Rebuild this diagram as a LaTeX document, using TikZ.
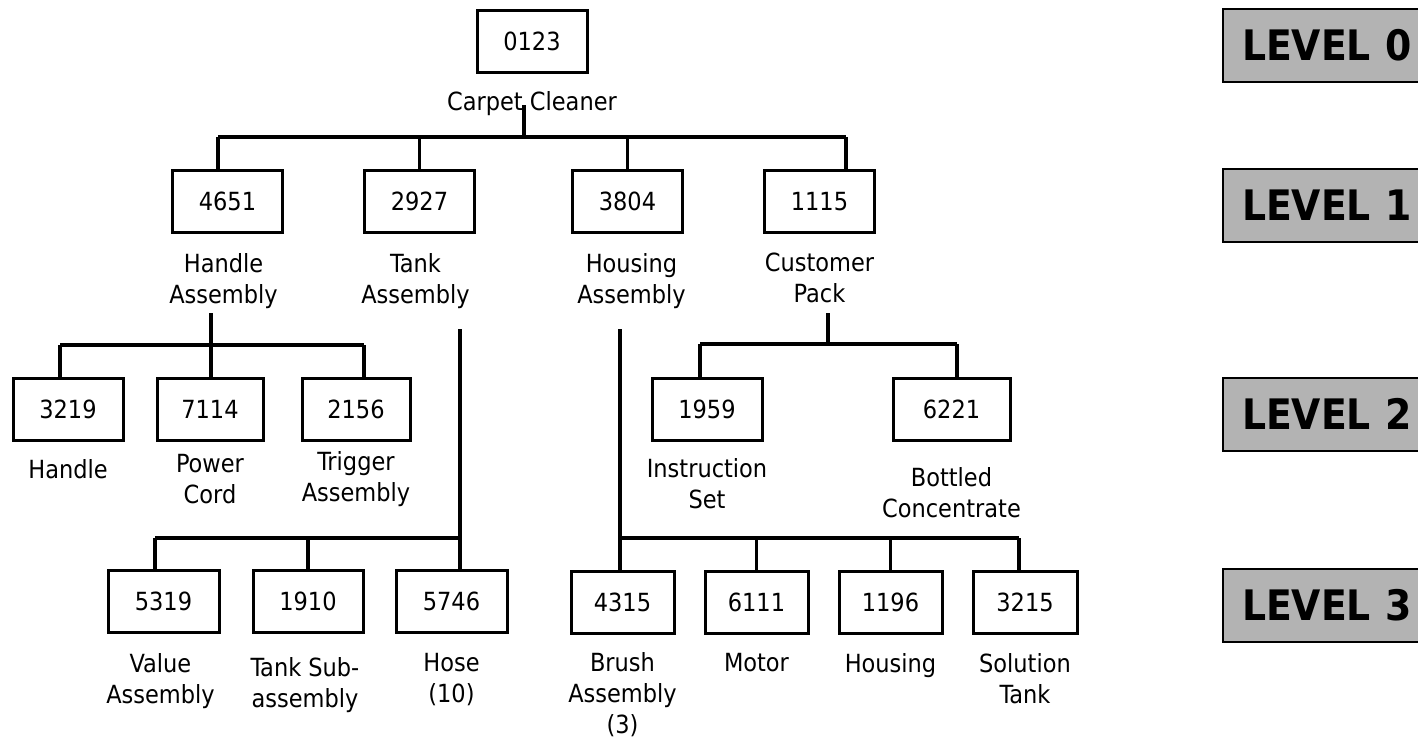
\documentclass[tikz,border=0pt]{standalone}
\usepackage{fontspec}
\setmainfont{DejaVu Sans Condensed}
\usepackage{xcolor}
\usetikzlibrary{positioning}
\definecolor{levelgray}{HTML}{B3B3B3}
\tikzstyle{part} = [rectangle, draw=black, line width=3pt, minimum width=110pt, minimum height=62pt, inner sep=0pt, font=\fontsize{25}{31}\selectfont]
\tikzstyle{partname} = [align=center, inner sep=0pt, font=\fontsize{25}{31}\selectfont]
\tikzstyle{levelbox} = [rectangle, draw=black, line width=2pt, fill=levelgray, anchor=west, minimum height=73pt, text width=200pt, inner xsep=19pt, align=left, font=\bfseries\fontsize{42}{50}\selectfont]
\tikzstyle{link} = [line width=3.5pt]

\begin{document}
\begin{tikzpicture}[x=1pt, y=-1pt]
    \useasboundingbox (0,0) rectangle (1418,739);

    % Level 0
    \node[part] (p0123) at (532,41) {0123};
    \node[partname, below=18pt of p0123] (n0123) {Carpet Cleaner};

    % Level 1
    \node[part] (p4651) at (227.5,201.5) {4651};
    \node[part] (p2927) at (419.5,201.5) {2927};
    \node[part] (p3804) at (627.5,201.5) {3804};
    \node[part] (p1115) at (819.5,201.5) {1115};
    \node[partname, below=19pt of p4651, xshift=-4pt] (n4651) {Handle\\Assembly};
    \node[partname, below=19pt of p2927, xshift=-4pt] (n2927) {Tank\\Assembly};
    \node[partname, below=19pt of p3804, xshift=4pt] (n3804) {Housing\\Assembly};
    \node[partname, below=19pt of p1115] (n1115) {Customer\\Pack};

    % Level 2
    \node[part] (p3219) at (68,409.5) {3219};
    \node[part, minimum width=106pt] (p7114) at (210,409.5) {7114};
    \node[part, minimum width=108pt] (p2156) at (356,409.5) {2156};
    \node[part] (p1959) at (707,409) {1959};
    \node[part, minimum width=117pt] (p6221) at (951.5,409) {6221};
    \node[partname, below=17pt of p3219] (n3219) {Handle};
    \node[partname, below=12pt of p7114] (n7114) {Power\\Cord};
    \node[partname, below=9pt of p2156] (n2156) {Trigger\\Assembly};
    \node[partname, below=17pt of p1959] (n1959) {Instruction\\Set};
    \node[partname, below=26pt of p6221] (n6221) {Bottled\\Concentrate};

    % Level 3
    \node[part, minimum width=111pt] (p5319) at (163.5,601.5) {5319};
    \node[part] (p1910) at (308,601.5) {1910};
    \node[part, minimum width=111pt] (p5746) at (451.5,601.5) {5746};
    \node[part, minimum width=103pt] (p4315) at (622.5,602) {4315};
    \node[part, minimum width=103pt] (p6111) at (756.5,602) {6111};
    \node[part, minimum width=103pt] (p1196) at (890.5,602) {1196};
    \node[part, minimum width=104pt] (p3215) at (1025,602) {3215};
    \node[partname, below=19pt of p5319, xshift=-3pt] (n5319) {Value\\Assembly};
    \node[partname, below=23pt of p1910, xshift=-3pt] (n1910) {Tank Sub-\\assembly};
    \node[partname, below=19pt of p5746] (n5746) {Hose\\(10)};
    \node[partname, below=18pt of p4315] (n4315) {Brush\\Assembly\\(3)};
    \node[partname, below=19pt of p6111] (n6111) {Motor};
    \node[partname, below=19pt of p1196] (n1196) {Housing};
    \node[partname, below=19pt of p3215] (n3215) {Solution\\Tank};

    % Level tags
    \node[levelbox] (lev0) at (1222,45.5) {LEVEL 0};
    \node[levelbox] (lev1) at (1222,205.5) {LEVEL 1};
    \node[levelbox] (lev2) at (1222,414) {LEVEL 2};
    \node[levelbox] (lev3) at (1222,605.5) {LEVEL 3};

    % Joints
    \coordinate (s0) at (524,105);
    \coordinate (b0l) at (218,137);
    \coordinate (b0r) at (846,137);
    \coordinate (s1) at (211,313);
    \coordinate (b1l) at (60,345);
    \coordinate (b1r) at (364,345);
    \coordinate (s2) at (460,329);
    \coordinate (b2l) at (155,538);
    \coordinate (s3) at (620,329);
    \coordinate (b3r) at (1019,538);
    \coordinate (s4) at (828,313);
    \coordinate (b4l) at (700,344);
    \coordinate (b4r) at (957,344);

    % Carpet Cleaner
    \draw[link] (s0) -- (s0 |- b0l);
    \draw[link] (b0l) -- (b0r);
    \draw[link] (b0l) -- (b0l |- p4651.north);
    \draw[link] (p2927.north) -- (p2927.north |- b0l);
    \draw[link] (p3804.north) -- (p3804.north |- b0l);
    \draw[link] (b0r) -- (b0r |- p1115.north);

    % Handle Assembly
    \draw[link] (s1) -- (s1 |- b1l);
    \draw[link] (b1l) -- (b1r);
    \draw[link] (b1l) -- (b1l |- p3219.north);
    \draw[link] (s1 |- b1l) -- (s1 |- p7114.north);
    \draw[link] (b1r) -- (b1r |- p2156.north);

    % Tank Assembly
    \draw[link] (s2) -- (s2 |- p5746.north);
    \draw[link] (b2l) -- (s2 |- b2l);
    \draw[link] (b2l) -- (b2l |- p5319.north);
    \draw[link] (p1910.north) -- (p1910.north |- b2l);

    % Housing Assembly
    \draw[link] (s3) -- (s3 |- p4315.north);
    \draw[link] (s3 |- b3r) -- (b3r);
    \draw[link] (p6111.north) -- (p6111.north |- b3r);
    \draw[link] (p1196.north) -- (p1196.north |- b3r);
    \draw[link] (b3r) -- (b3r |- p3215.north);

    % Customer Pack
    \draw[link] (s4) -- (s4 |- b4l);
    \draw[link] (b4l) -- (b4r);
    \draw[link] (b4l) -- (b4l |- p1959.north);
    \draw[link] (b4r) -- (b4r |- p6221.north);

\end{tikzpicture}
\end{document}
